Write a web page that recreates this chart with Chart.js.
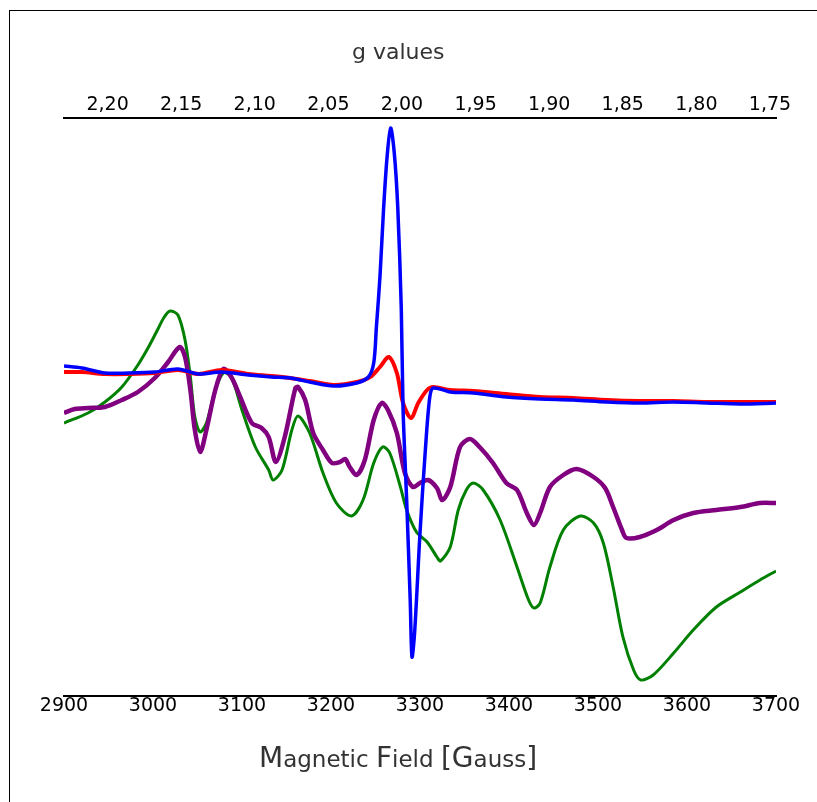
<!DOCTYPE html>
<html>
<head>
<meta charset="utf-8">
<script src="https://cdn.jsdelivr.net/npm/chart.js@4.4.0/dist/chart.umd.min.js"></script>
<style>
  html, body { margin: 0; padding: 0; background: #fff; }
  #wrap { position: relative; width: 817px; height: 802px; }
  #frame { position: absolute; left: 9px; top: 10px; right: 0; bottom: 0; border-left: 1px solid #000; border-top: 1px solid #000; }
  #epr { position: absolute; left: 0; top: 0; }
  .axisTitle { position: absolute; font-family: "DejaVu Sans", sans-serif; color: #333; white-space: nowrap; }
  #gTitle { left: 352px; top: 39px; font-size: 22px; line-height: 26px; }
  #fieldTitle { left: 259px; top: 743px; line-height: 30px; font-size: 23px; }
  .big { font-size: 28px; }
</style>
</head>
<body>
<div id="wrap">
  <div id="frame"></div>
  <canvas id="epr" width="817" height="802"></canvas>
  <div id="gTitle" class="axisTitle">g values</div>
  <div id="fieldTitle" class="axisTitle"><span class="big">M</span>agnetic <span class="big">F</span>ield <span class="big">[G</span>auss<span class="big">]</span></div>
</div>
<script>
// tick labels
const fieldTicks = [2900, 3000, 3100, 3200, 3300, 3400, 3500, 3600, 3700];
const gTicks = [2.20, 2.15, 2.10, 2.05, 2.00, 1.95, 1.90, 1.85, 1.80, 1.75];

// spectra: field in Gauss, signal in arbitrary units
const blueField = [2900, 2920, 2946, 2972, 3002, 3028, 3051, 3077, 3107, 3133, 3154, 3176, 3203, 3229, 3242, 3248, 3251, 3255, 3259, 3263, 3267, 3271, 3275, 3279, 3281, 3285, 3289, 3291, 3294, 3300, 3306, 3311, 3315, 3334, 3360, 3397, 3435, 3472, 3510, 3547, 3585, 3622, 3660, 3700];
const blueSignal = [41, 39, 34, 34, 35, 38, 33, 35, 32, 30, 29, 25, 21, 24, 30, 44, 80, 130, 197, 250, 279, 255, 200, 97, -3, -93, -193, -250, -225, -126, -43, 10, 19, 15, 14, 10, 8, 7, 5, 4, 5, 4, 3, 4];

const redField = [2900, 2920, 2946, 2972, 3002, 3028, 3051, 3077, 3107, 3133, 3154, 3176, 3203, 3229, 3244, 3255, 3265, 3274, 3281, 3290, 3298, 3308, 3315, 3334, 3360, 3397, 3435, 3472, 3510, 3547, 3585, 3622, 3660, 3700];
const redSignal = [35, 35, 33, 33, 34, 37, 33, 37, 33, 31, 29, 26, 22, 25, 30, 40, 50, 34, 4, -11, 4, 17, 20, 17, 16, 13, 10, 9, 7, 6, 6, 5, 5, 5];

const purpleField = [2900, 2912, 2927, 2946, 2965, 2983, 3002, 3017, 3030, 3036, 3042, 3047, 3053, 3060, 3070, 3079, 3088, 3098, 3111, 3122, 3130, 3138, 3148, 3160, 3163, 3171, 3180, 3191, 3201, 3210, 3216, 3221, 3229, 3238, 3248, 3257, 3264, 3274, 3283, 3292, 3300, 3309, 3319, 3325, 3334, 3345, 3356, 3367, 3382, 3397, 3409, 3420, 3428, 3435, 3446, 3461, 3476, 3495, 3508, 3517, 3527, 3532, 3547, 3566, 3585, 3607, 3633, 3660, 3682, 3700];
const purpleSignal = [-6, -2, -1, 0, 7, 15, 29, 45, 60, 50, 17, -23, -45, -23, 17, 38, 30, 10, -16, -21, -30, -55, -30, 19, 20, 7, -26, -43, -56, -55, -52, -60, -68, -53, -13, 4, -3, -26, -66, -80, -76, -73, -81, -93, -80, -40, -32, -40, -56, -76, -83, -106, -118, -106, -80, -68, -62, -70, -81, -100, -123, -131, -130, -123, -113, -106, -103, -100, -96, -96];

const greenField = [2900, 2927, 2946, 2965, 2983, 2995, 3005, 3012, 3019, 3028, 3036, 3042, 3047, 3053, 3060, 3070, 3079, 3088, 3100, 3115, 3130, 3135, 3145, 3156, 3163, 3176, 3191, 3206, 3223, 3236, 3248, 3258, 3266, 3278, 3285, 3296, 3308, 3319, 3323, 3334, 3343, 3352, 3360, 3371, 3390, 3409, 3422, 3428, 3435, 3446, 3461, 3480, 3495, 3506, 3517, 3528, 3540, 3548, 3562, 3585, 3607, 3633, 3660, 3682, 3700];
const greenSignal = [-16, -6, 5, 20, 42, 60, 77, 89, 96, 92, 67, 30, -10, -25, -16, 17, 34, 30, -3, -40, -63, -73, -63, -23, -9, -26, -66, -96, -109, -93, -56, -40, -46, -80, -103, -125, -135, -150, -154, -140, -103, -83, -76, -83, -113, -160, -193, -201, -196, -160, -123, -109, -116, -136, -180, -230, -263, -273, -268, -246, -223, -200, -185, -173, -164];

const tickFont = { family: '"DejaVu Sans", sans-serif', size: 19 };

function toPoints(xs, ys) {
  return xs.map((x, i) => ({ x: x, y: ys[i] }));
}

function trace(label, xs, ys, color, width) {
  return {
    label: label,
    data: toPoints(xs, ys),
    borderColor: color,
    borderWidth: width,
    pointRadius: 0,
    fill: false,
    tension: 0.3,
    xAxisID: 'x',
    yAxisID: 'y',
  };
}

const ctx = document.getElementById('epr');
new Chart(ctx, {
  type: 'line',
  data: {
    datasets: [
      trace('blue', blueField, blueSignal, '#0000ff', 3.5),
      trace('red', redField, redSignal, '#ff0000', 4),
      trace('purple', purpleField, purpleSignal, '#800080', 4.5),
      trace('green', greenField, greenSignal, '#008000', 3),
    ],
  },
  options: {
    responsive: false,
    animation: false,
    layout: { padding: { left: 64, right: 41, top: 10, bottom: 0 } },
    plugins: {
      legend: { display: false },
      tooltip: { enabled: false },
    },
    scales: {
      x: {
        type: 'linear',
        position: 'bottom',
        min: 2900,
        max: 3700,
        grid: { display: false, drawTicks: false },
        border: { color: '#000', width: 2 },
        ticks: { font: tickFont, color: '#000', padding: -1, maxRotation: 0, autoSkip: false, callback: (v) => String(v) },
        afterBuildTicks: (s) => { s.ticks = fieldTicks.map((v) => ({ value: v })); },
        afterFit: (s) => { s.height = 106; },
      },
      x2: {
        type: 'linear',
        position: 'top',
        reverse: true,
        min: 1.7459,
        max: 2.2296,
        grid: { display: false, drawTicks: false },
        border: { color: '#000', width: 2 },
        ticks: { font: tickFont, color: '#000', padding: 2, maxRotation: 0, autoSkip: false, callback: (v) => v.toFixed(2).replace('.', ',') },
        afterBuildTicks: (s) => { s.ticks = gTicks.map((v) => ({ value: v })); },
        afterFit: (s) => { s.height = 108; },
      },
      y: { display: false, min: -289, max: 289 },
    },
  },
});
</script>
</body>
</html>
